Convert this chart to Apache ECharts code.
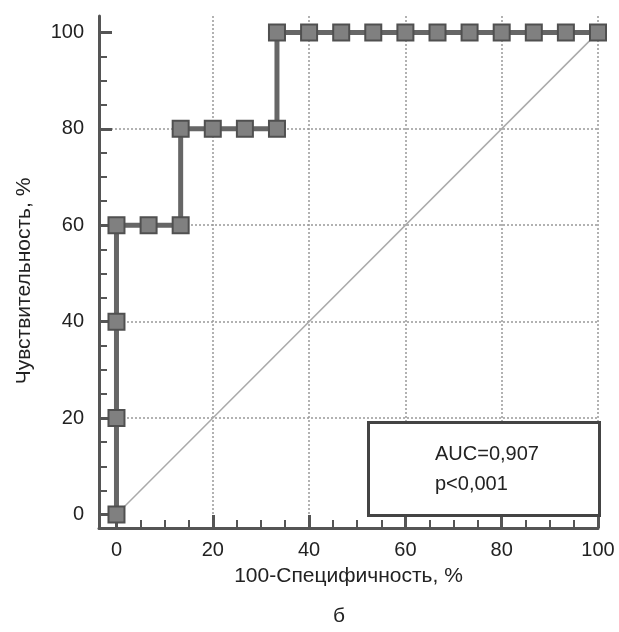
<!DOCTYPE html>
<html>
<head>
<meta charset="utf-8">
<script src="https://cdn.jsdelivr.net/npm/echarts@6/dist/echarts.min.js"></script>
<style>
  html, body { margin: 0; padding: 0; background: #fff; }
  #chart { width: 619px; height: 632px; }
</style>
</head>
<body>
<div id="chart"></div>
<script>
// ROC points: 100-specificity (x) and sensitivity (y), %
const rocX = [0, 0, 0, 0, 6.67, 13.33, 13.33, 20, 26.67, 33.33, 33.33, 40, 46.67, 53.33, 60, 66.67, 73.33, 80, 86.67, 93.33, 100];
const rocY = [0, 20, 40, 60, 60, 60, 80, 80, 80, 80, 100, 100, 100, 100, 100, 100, 100, 100, 100, 100, 100];
// reference diagonal
const diagX = [0, 100];
const diagY = [0, 100];
const tickValues = [0, 20, 40, 60, 80, 100];

const chart = echarts.init(document.getElementById("chart"));

const font = "'Liberation Sans', Arial, sans-serif";
const axisColor = "#555";

const commonAxis = {
  type: "value",
  axisLine: { show: true, onZero: false, lineStyle: { color: axisColor, width: 3 } },
  axisTick: { show: true, inside: true, length: 13, customValues: tickValues, lineStyle: { color: axisColor, width: 3 } },
  minorTick: { show: true, splitNumber: 4, length: 8, lineStyle: { color: axisColor, width: 2 } },
  axisLabel: {
    customValues: tickValues,
    fontFamily: font,
    fontSize: 20,
    color: "#222",
    formatter: (v) => (tickValues.includes(v) ? String(v) : ""),
  },
  splitLine: {
    show: true,
    showMinLine: false,
    lineStyle: { color: "#999", width: 1.5, type: [2, 2] },
  },
  nameLocation: "middle",
  nameTextStyle: { fontFamily: font, fontSize: 21, color: "#222" },
};

const option = {
  animation: false,
  backgroundColor: "#fff",
  grid: { left: 99, right: 21, top: 16, bottom: 104, containLabel: false },
  xAxis: {
    ...commonAxis,
    min: -3.63,
    max: 100,
    splitNumber: 5,
    name: "100-Специфичность, %",
    nameGap: 38,
    axisLabel: { ...commonAxis.axisLabel, margin: 12 },
  },
  yAxis: {
    ...commonAxis,
    min: -2.8,
    max: 103.4,
    splitNumber: 5,
    name: "Чувствительность, %",
    nameGap: 64,
    nameRotate: 90,
    nameTextStyle: { ...commonAxis.nameTextStyle, padding: [0, 18, 0, 0] },
    axisLabel: { ...commonAxis.axisLabel, margin: 15 },
    splitLine: { ...commonAxis.splitLine, showMaxLine: false },
  },
  series: [
    {
      name: "diag",
      type: "line",
      data: diagX.map((x, i) => [x, diagY[i]]),
      symbol: "none",
      lineStyle: { color: "#aaa", width: 1.5 },
      z: 1,
      silent: true,
    },
    {
      name: "ROC",
      type: "line",
      data: rocX.map((x, i) => [x, rocY[i]]),
      clip: false,
      symbol: "rect",
      symbolSize: 16,
      itemStyle: { color: "#808080", borderColor: "#505050", borderWidth: 2 },
      lineStyle: { color: "#666", width: 5 },
      z: 3,
    },
  ],
  graphic: [
    {
      type: "rect",
      left: 367,
      top: 421,
      shape: { width: 231, height: 93 },
      style: { fill: "#fff", stroke: "#444", lineWidth: 3 },
      z: 10,
    },
    {
      type: "text",
      left: 435,
      top: 439,
      style: { text: "AUC=0,907\np<0,001", font: "20px " + font, fill: "#222", lineHeight: 30 },
      z: 11,
    },
    {
      type: "text",
      left: 333,
      top: 606,
      style: { text: "б", font: "21px " + font, fill: "#222" },
      z: 11,
    },
  ],
};

chart.setOption(option);
</script>
</body>
</html>
